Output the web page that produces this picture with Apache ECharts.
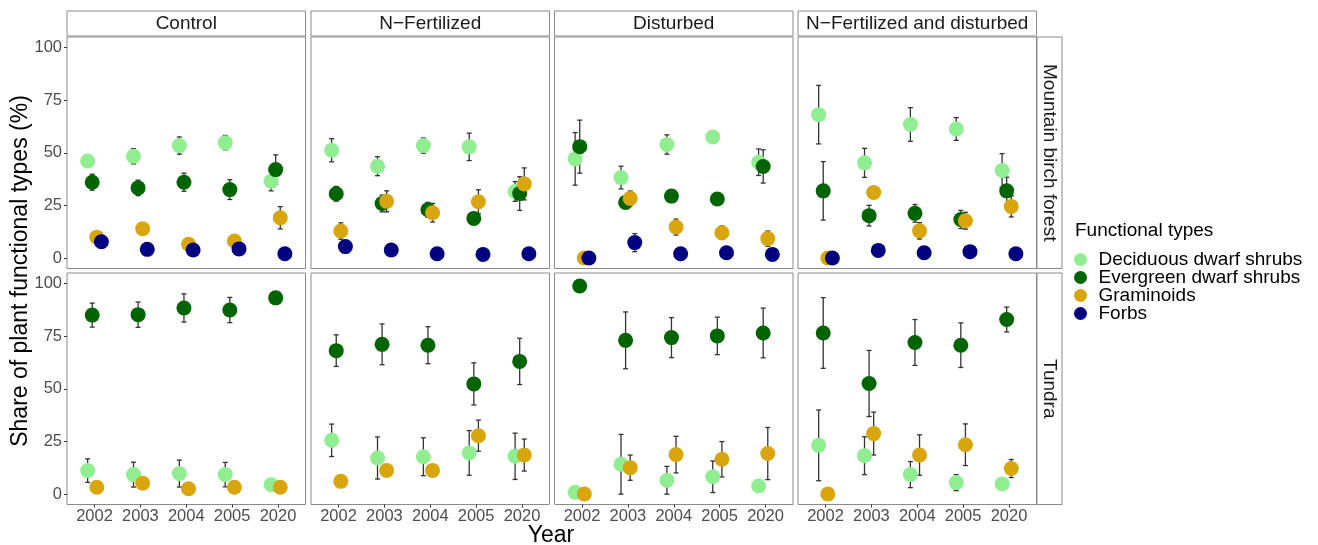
<!DOCTYPE html>
<html>
<head>
<meta charset="utf-8">
<script src="https://cdn.jsdelivr.net/npm/echarts@6/dist/echarts.min.js"></script>
<style>
html,body{margin:0;padding:0;background:#fff;}
#chart{width:1318px;height:545px;}
</style>
</head>
<body>
<div id="chart"></div>
<script>
// ---------------- DATA ----------------
const years = ['2002', '2003', '2004', '2005', '2020'];
const treatments = ['Control', 'N\u2212Fertilized', 'Disturbed', 'N\u2212Fertilized and disturbed'];
const habitats = ['Mountain birch forest', 'Tundra'];
const typeNames = ['Deciduous dwarf shrubs', 'Evergreen dwarf shrubs', 'Graminoids', 'Forbs'];
const yTicks = [0, 25, 50, 75, 100];

// Mountain birch forest: one row per treatment, values per year
const forestDecMean = [[46.1, 48.3, 53.4, 54.8, 36.5], [51.2, 43.6, 53.4, 52.8, 31.6], [47.1, 38.2, 53.9, 57.5, 45.5], [68.1, 45.2, 63.4, 61.3, 41.6]];
const forestDecErr  = [[2.0, 3.6, 4.1, 3.4, 4.6], [5.5, 4.5, 3.6, 6.5, 4.7], [12.5, 5.4, 4.6, 1.5, 6.3], [13.9, 6.9, 8.0, 5.4, 8.0]];
const forestEveMean = [[36.0, 33.3, 36.0, 32.5, 42.0], [30.5, 25.9, 22.9, 18.8, 30.6], [52.9, 26.4, 29.4, 28.0, 43.5], [31.9, 20.1, 21.2, 18.3, 31.9]];
const forestEveErr  = [[3.8, 3.7, 4.3, 4.7, 7.0], [3.5, 4.0, 3.5, 2.0, 8.0], [12.6, 2.5, 2.0, 2.0, 7.9], [13.9, 4.9, 4.2, 4.3, 6.5]];
const forestGraMean = [[9.9, 13.9, 6.5, 8.1, 19.1], [12.8, 26.9, 21.5, 26.7, 35.2], [0.0, 28.3, 14.7, 12.0, 9.2], [0.0, 31.1, 12.9, 17.7, 24.5]];
const forestGraErr  = [[1.5, 1.5, 1.5, 1.5, 5.3], [3.9, 5.0, 4.4, 5.7, 7.6], [0.0, 3.5, 3.8, 3.2, 3.6], [0.0, 1.5, 3.9, 4.0, 5.0]];
const forestForMean = [[7.7, 4.1, 3.8, 4.3, 2.0], [5.4, 3.8, 2.0, 1.7, 2.0], [0.0, 7.3, 2.0, 2.5, 1.7], [0.0, 3.6, 2.5, 3.0, 2.0]];
const forestForErr  = [[1.0, 1.0, 1.0, 1.0, 0.5], [1.0, 1.0, 0.5, 0.5, 0.5], [0.0, 4.3, 1.0, 1.0, 0.5], [0.0, 1.0, 1.0, 1.0, 0.5]];

// Tundra
const tundraDecMean = [[11.1, 9.2, 9.7, 9.2, 4.4], [25.5, 17.1, 17.7, 19.5, 17.9], [0.8, 14.1, 6.5, 8.2, 3.8], [23.1, 18.2, 9.2, 5.4, 4.8]];
const tundraDecErr  = [[5.6, 5.9, 6.4, 5.8, 1.5], [7.7, 10.0, 9.0, 10.6, 11.0], [0.5, 14.2, 6.6, 7.5, 1.5], [16.8, 9.0, 6.2, 3.8, 1.5]];
const tundraEveMean = [[85.0, 85.2, 88.4, 87.4, 93.2], [68.1, 71.1, 70.7, 52.3, 63.0], [98.8, 73.0, 74.3, 75.1, 76.5], [76.5, 52.5, 72.0, 70.7, 82.9]];
const tundraEveErr  = [[5.7, 6.0, 6.7, 6.0, 2.0], [7.5, 9.7, 8.8, 10.0, 11.0], [0.5, 13.5, 9.5, 8.9, 11.8], [16.8, 15.7, 10.9, 10.6, 5.9]];
const tundraGraMean = [[3.2, 5.1, 2.5, 3.2, 3.2], [6.0, 11.2, 11.2, 27.7, 18.5], [0.0, 12.5, 18.7, 16.5, 19.2], [0.0, 28.7, 18.5, 23.4, 12.1]];
const tundraGraErr  = [[1.0, 1.0, 1.0, 1.0, 1.0], [1.5, 1.5, 1.5, 7.4, 7.6], [0.0, 6.0, 8.7, 8.4, 12.4], [0.0, 10.2, 9.6, 9.9, 4.3]];
const tundraForMean = [[null, null, null, null, null], [null, null, null, null, null], [null, null, null, null, null], [null, null, null, null, null]];
const tundraForErr  = [[null, null, null, null, null], [null, null, null, null, null], [null, null, null, null, null], [null, null, null, null, null]];

// ---------------- STYLE / LAYOUT ----------------
const colors = ['#90EE90', '#006400', '#D8A50C', '#000080'];
const dodge = [-0.15, -0.05, 0.05, 0.15];
const FONT = 'Liberation Sans, Arial, sans-serif';
const colLeft = [67, 311, 554.5, 798];
const colW = 238.5;
const rowTop = [37, 273];
const rowH = 231.5;
const borderCol = '#8a8a8a';

const meanSets = [
  [forestDecMean, forestEveMean, forestGraMean, forestForMean],
  [tundraDecMean, tundraEveMean, tundraGraMean, tundraForMean]
];
const errSets = [
  [forestDecErr, forestEveErr, forestGraErr, forestForErr],
  [tundraDecErr, tundraEveErr, tundraGraErr, tundraForErr]
];

const grids = [], xAxes = [], yAxes = [], series = [], graphics = [];
let gi = 0;
for (let r = 0; r < 2; r++) {
  for (let c = 0; c < 4; c++) {
    grids.push({left: colLeft[c], top: rowTop[r], width: colW, height: rowH,
      show: true, borderColor: borderCol, borderWidth: 1, backgroundColor: '#fff', containLabel: false});
    const showX = r === 1, showY = c === 0;
    xAxes.push({type: 'value', gridIndex: gi, min: -0.6, max: 4.6, position: 'bottom',
      axisLine: {show: false, onZero: false}, splitLine: {show: false},
      axisTick: {show: showX, length: 3, customValues: [0, 1, 2, 3, 4], lineStyle: {color: '#333', width: 1}},
      axisLabel: {show: showX, customValues: [0, 1, 2, 3, 4], margin: 3, color: '#4d4d4d', fontSize: 16.5, fontFamily: FONT,
        formatter: v => years[Math.round(v)]}});
    yAxes.push({type: 'value', gridIndex: gi, min: -5, max: 105, position: 'left',
      axisLine: {show: false, onZero: false}, splitLine: {show: false},
      axisTick: {show: showY, length: 3, customValues: yTicks, lineStyle: {color: '#333', width: 1}},
      axisLabel: {show: showY, customValues: yTicks, margin: 5, color: '#4d4d4d', fontSize: 16.5, fontFamily: FONT}});
    // error bars
    for (let t = 0; t < 4; t++) {
      const m = meanSets[r][t][c], e = errSets[r][t][c];
      const ed = [];
      for (let i = 0; i < years.length; i++) {
        if (m[i] == null || e[i] == null) continue;
        ed.push([i + dodge[t], m[i] - e[i], m[i] + e[i]]);
      }
      series.push({type: 'custom', name: 'err', xAxisIndex: gi, yAxisIndex: gi, z: 1, silent: true,
        data: ed,
        renderItem: (params, api) => {
          const p1 = api.coord([api.value(0), api.value(1)]);
          const p2 = api.coord([api.value(0), api.value(2)]);
          const hw = 2.5;
          const st = {stroke: '#333', lineWidth: 1.3};
          return {type: 'group', children: [
            {type: 'line', shape: {x1: p1[0], y1: p1[1], x2: p2[0], y2: p2[1]}, style: st},
            {type: 'line', shape: {x1: p1[0] - hw, y1: p1[1], x2: p1[0] + hw, y2: p1[1]}, style: st},
            {type: 'line', shape: {x1: p2[0] - hw, y1: p2[1], x2: p2[0] + hw, y2: p2[1]}, style: st}
          ]};
        }});
    }
    // points
    for (let t = 0; t < 4; t++) {
      const m = meanSets[r][t][c];
      const pd = [];
      for (let i = 0; i < years.length; i++) {
        if (m[i] == null) continue;
        pd.push([i + dodge[t], m[i]]);
      }
      series.push({type: 'scatter', name: typeNames[t], xAxisIndex: gi, yAxisIndex: gi, z: 2,
        symbol: 'circle', symbolSize: 15, itemStyle: {color: colors[t], opacity: 1},
        emphasis: {disabled: true}, data: pd});
    }
    gi++;
  }
}

// strips
for (let c = 0; c < 4; c++) {
  graphics.push({type: 'rect', shape: {x: colLeft[c], y: 11, width: colW, height: 25},
    style: {fill: '#fff', stroke: borderCol, lineWidth: 1}});
  graphics.push({type: 'text', x: colLeft[c] + colW / 2, y: 24,
    style: {text: treatments[c], fill: '#1a1a1a', fontSize: 19, fontFamily: FONT,
      align: 'center', verticalAlign: 'middle', textAlign: 'center', textVerticalAlign: 'middle'}});
}
for (let r = 0; r < 2; r++) {
  graphics.push({type: 'rect', shape: {x: 1037, y: rowTop[r], width: 25, height: rowH},
    style: {fill: '#fff', stroke: borderCol, lineWidth: 1}});
  graphics.push({type: 'text', x: 1049.5, y: rowTop[r] + rowH / 2, rotation: -Math.PI / 2,
    style: {text: habitats[r], fill: '#1a1a1a', fontSize: 19, fontFamily: FONT,
      align: 'center', verticalAlign: 'middle', textAlign: 'center', textVerticalAlign: 'middle'}});
}
// axis titles
graphics.push({type: 'text', x: 551, y: 536,
  style: {text: 'Year', fill: '#000', fontSize: 23, fontFamily: FONT,
    align: 'center', verticalAlign: 'middle', textAlign: 'center', textVerticalAlign: 'middle'}});
graphics.push({type: 'text', x: 21, y: 271, rotation: Math.PI / 2,
  style: {text: 'Share of plant functional types (%)', fill: '#000', fontSize: 23, fontFamily: FONT,
    align: 'center', verticalAlign: 'middle', textAlign: 'center', textVerticalAlign: 'middle'}});
// legend title
graphics.push({type: 'text', x: 1075, y: 231,
  style: {text: 'Functional types', fill: '#000', fontSize: 19, fontFamily: FONT,
    align: 'left', verticalAlign: 'middle', textAlign: 'left', textVerticalAlign: 'middle'}});

const chart = echarts.init(document.getElementById('chart'), null, {renderer: 'canvas'});
chart.setOption({
  animation: false,
  backgroundColor: '#fff',
  grid: grids, xAxis: xAxes, yAxis: yAxes, series: series,
  legend: {data: typeNames, orient: 'vertical', left: 1069, top: 245,
    icon: 'circle', itemWidth: 26, itemHeight: 13, itemGap: -1, selectedMode: false,
    textStyle: {fontSize: 19, fontFamily: FONT, color: '#000'}},
  graphic: graphics
});
</script>
</body>
</html>
